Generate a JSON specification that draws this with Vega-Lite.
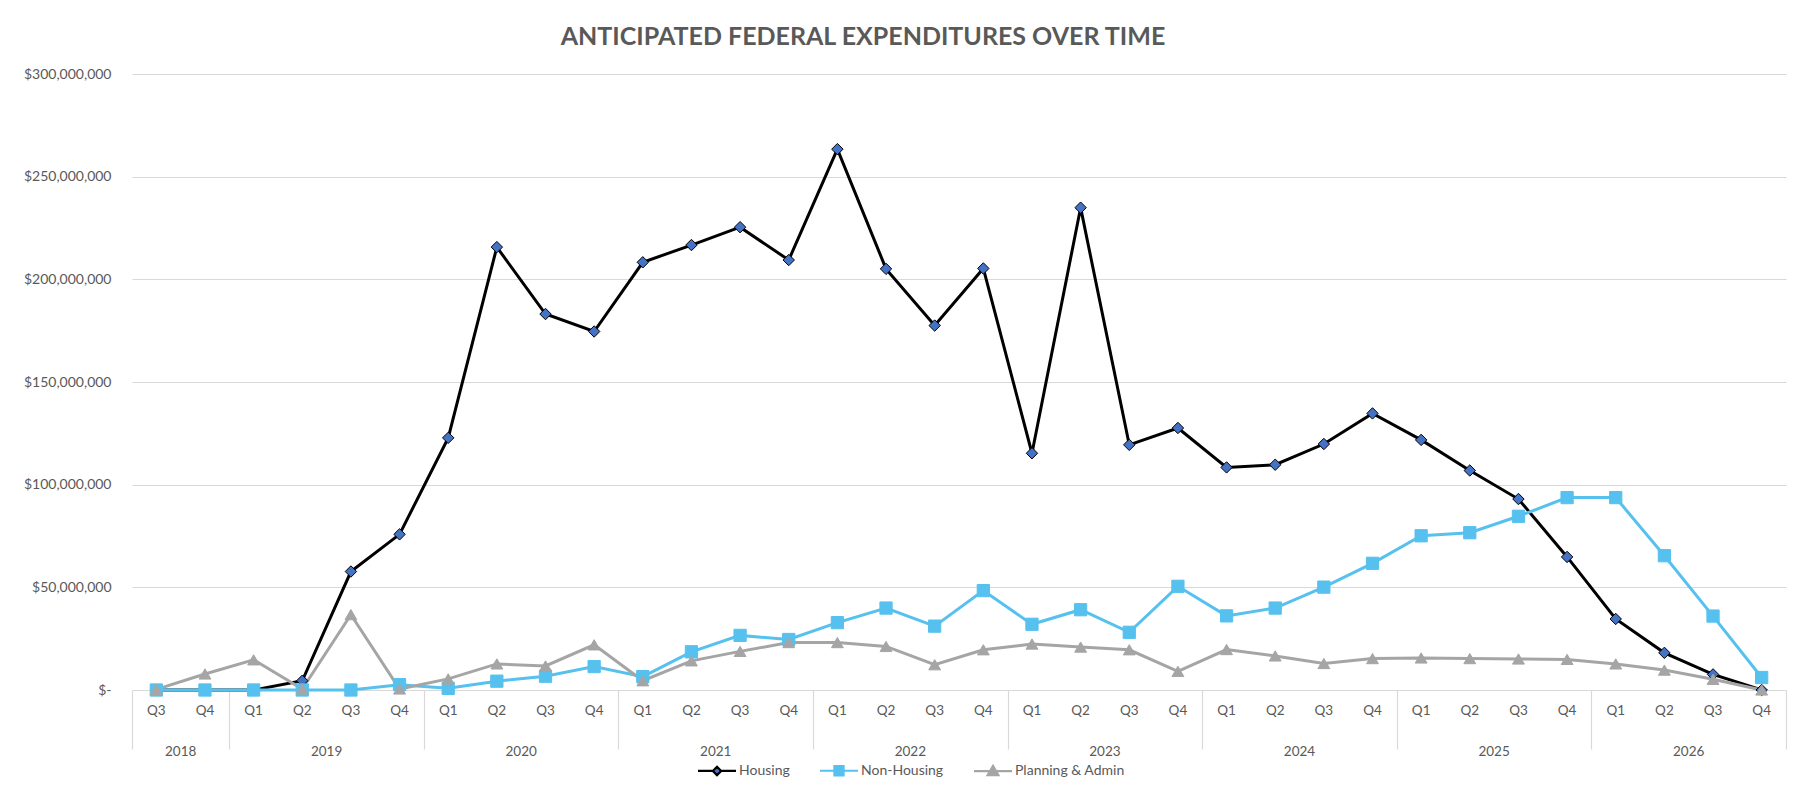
{
  "$schema": "https://vega.github.io/schema/vega-lite/v6.json",
  "width": 1654,
  "height": 616,
  "autosize": {"type": "none"},
  "padding": {"left": 132, "top": 74, "right": 25, "bottom": 106},
  "background": "white",
  "config": {
    "view": {"stroke": null},
    "font": "Lato",
    "axis": {"labelColor": "#595959", "labelFontSize": 13.5, "labelFont": "Lato", "title": null}
  },
  "title": {
    "text": "ANTICIPATED FEDERAL EXPENDITURES OVER TIME",
    "anchor": "middle",
    "dx": -96,
    "offset": 17,
    "fontSize": 25,
    "font": "Lato",
    "fontWeight": "bold",
    "color": "#595959"
  },
  "data": {
    "values": [
      {"period": "2018 Q3", "Housing": 0, "Non-Housing": 0, "Planning & Admin": 300000},
      {"period": "2018 Q4", "Housing": 0, "Non-Housing": 0, "Planning & Admin": 7800000},
      {"period": "2019 Q1", "Housing": 0, "Non-Housing": 0, "Planning & Admin": 14700000},
      {"period": "2019 Q2", "Housing": 4500000, "Non-Housing": 0, "Planning & Admin": 500000},
      {"period": "2019 Q3", "Housing": 57700000, "Non-Housing": 0, "Planning & Admin": 36700000},
      {"period": "2019 Q4", "Housing": 75800000, "Non-Housing": 2600000, "Planning & Admin": 500000},
      {"period": "2020 Q1", "Housing": 122800000, "Non-Housing": 800000, "Planning & Admin": 5400000},
      {"period": "2020 Q2", "Housing": 215700000, "Non-Housing": 4300000, "Planning & Admin": 12700000},
      {"period": "2020 Q3", "Housing": 183100000, "Non-Housing": 6700000, "Planning & Admin": 11700000},
      {"period": "2020 Q4", "Housing": 174600000, "Non-Housing": 11400000, "Planning & Admin": 22000000},
      {"period": "2021 Q1", "Housing": 208300000, "Non-Housing": 6500000, "Planning & Admin": 4500000},
      {"period": "2021 Q2", "Housing": 216700000, "Non-Housing": 18600000, "Planning & Admin": 14200000},
      {"period": "2021 Q3", "Housing": 225400000, "Non-Housing": 26600000, "Planning & Admin": 18800000},
      {"period": "2021 Q4", "Housing": 209400000, "Non-Housing": 24600000, "Planning & Admin": 23100000},
      {"period": "2022 Q1", "Housing": 263400000, "Non-Housing": 32800000, "Planning & Admin": 23100000},
      {"period": "2022 Q2", "Housing": 205100000, "Non-Housing": 39900000, "Planning & Admin": 21200000},
      {"period": "2022 Q3", "Housing": 177500000, "Non-Housing": 31100000, "Planning & Admin": 12300000},
      {"period": "2022 Q4", "Housing": 205300000, "Non-Housing": 48400000, "Planning & Admin": 19600000},
      {"period": "2023 Q1", "Housing": 115300000, "Non-Housing": 32000000, "Planning & Admin": 22400000},
      {"period": "2023 Q2", "Housing": 234900000, "Non-Housing": 39100000, "Planning & Admin": 20900000},
      {"period": "2023 Q3", "Housing": 119400000, "Non-Housing": 28100000, "Planning & Admin": 19600000},
      {"period": "2023 Q4", "Housing": 127600000, "Non-Housing": 50500000, "Planning & Admin": 9100000},
      {"period": "2024 Q1", "Housing": 108400000, "Non-Housing": 36100000, "Planning & Admin": 19700000},
      {"period": "2024 Q2", "Housing": 109700000, "Non-Housing": 39900000, "Planning & Admin": 16600000},
      {"period": "2024 Q3", "Housing": 119800000, "Non-Housing": 50100000, "Planning & Admin": 12900000},
      {"period": "2024 Q4", "Housing": 134700000, "Non-Housing": 61700000, "Planning & Admin": 15300000},
      {"period": "2025 Q1", "Housing": 121800000, "Non-Housing": 75100000, "Planning & Admin": 15600000},
      {"period": "2025 Q2", "Housing": 106900000, "Non-Housing": 76600000, "Planning & Admin": 15300000},
      {"period": "2025 Q3", "Housing": 93000000, "Non-Housing": 84600000, "Planning & Admin": 15100000},
      {"period": "2025 Q4", "Housing": 64800000, "Non-Housing": 93700000, "Planning & Admin": 14900000},
      {"period": "2026 Q1", "Housing": 34600000, "Non-Housing": 93700000, "Planning & Admin": 12700000},
      {"period": "2026 Q2", "Housing": 18100000, "Non-Housing": 65400000, "Planning & Admin": 9700000},
      {"period": "2026 Q3", "Housing": 7600000, "Non-Housing": 36000000, "Planning & Admin": 5200000},
      {"period": "2026 Q4", "Housing": 0, "Non-Housing": 6100000, "Planning & Admin": 0}
    ]
  },
  "transform": [
    {"fold": ["Housing", "Non-Housing", "Planning & Admin"], "as": ["series", "value"]}
  ],
  "resolve": {"axis": {"x": "independent"}},
  "layer": [
    {
      "mark": {"type": "line", "strokeWidth": 3},
      "encoding": {
        "x": {
          "field": "period", "type": "ordinal", "sort": null, "bandPosition": 0.5,
          "scale": {"type": "band", "paddingInner": 0, "paddingOuter": 0},
          "axis": {
            "orient": "bottom",
            "labelExpr": "slice(datum.value, 5)",
            "ticks": false, "grid": false, "labelAngle": 0,
            "domainColor": "#d9d9d9", "domainWidth": 1.2,
            "labelPadding": 13, "labelOverlap": false
          }
        },
        "y": {
          "field": "value", "type": "quantitative",
          "scale": {"domain": [0, 300000000]},
          "axis": {
            "values": [0, 50000000, 100000000, 150000000, 200000000, 250000000, 300000000],
            "labelExpr": "datum.value == 0 ? '$-   ' : '$' + format(datum.value, ',')",
            "labelFontSize": 14,
            "domain": false, "ticks": false,
            "grid": true, "gridColor": "#d9d9d9", "gridWidth": 1.2,
            "labelPadding": 21
          }
        },
        "color": {
          "field": "series", "type": "nominal",
          "scale": {"domain": ["Housing", "Non-Housing", "Planning & Admin"], "range": ["#000000", "#56C1EE", "#A5A5A5"]},
          "legend": {
            "title": null,
            "orient": "none",
            "legendX": 566,
            "legendY": 676,
            "direction": "horizontal",
            "labelFontSize": 14,
            "labelFont": "Lato",
            "labelColor": "#595959",
            "columnPadding": 25,
            "encode": {
              "symbols": {
                "update": {
                  "shape": {"signal": "datum.value === 'Housing' ? 'M-1,0L-0.22,0M0.22,0L1,0M0,-0.22L0.22,0L0,0.22L-0.22,0Z' : datum.value === 'Non-Housing' ? 'M-1,0L1,0M-0.24,-0.24L0.24,-0.24L0.24,0.24L-0.24,0.24Z' : 'M-1,0L1,0M0,-0.27L0.28,0.21L-0.28,0.21Z'"},
                  "fill": {"signal": "datum.value === 'Housing' ? '#4472C4' : datum.value === 'Non-Housing' ? '#56C1EE' : '#A5A5A5'"},
                  "stroke": {"signal": "datum.value === 'Housing' ? '#000000' : datum.value === 'Non-Housing' ? '#56C1EE' : '#A5A5A5'"},
                  "strokeWidth": {"value": 2.2},
                  "strokeOpacity": {"value": 1},
                  "fillOpacity": {"value": 1},
                  "size": {"value": 1444},
                  "x": {"value": 19},
                  "opacity": {"value": 1}
                }
              },
              "labels": {
                "update": {
                  "x": {"value": 41}
                }
              }
            }
          }
        }
      }
    },
    {
      "transform": [{"filter": "datum.series === 'Housing'"}],
      "mark": {"type": "point", "shape": "diamond", "filled": true, "fill": "#4472C4", "stroke": "#000000", "strokeWidth": 1, "size": 130, "opacity": 1},
      "encoding": {
        "x": {
          "field": "period", "type": "ordinal", "sort": null, "bandPosition": 0.5,
          "axis": {
            "orient": "bottom",
            "values": ["2018 Q3", "2019 Q2", "2020 Q2", "2021 Q2", "2022 Q2", "2023 Q2", "2024 Q2", "2025 Q2", "2026 Q2"],
            "labelExpr": "slice(datum.value, 0, 4)",
            "labelOffset": 24.3,
            "ticks": false, "domain": false, "grid": false, "labelAngle": 0,
            "labelPadding": 54, "labelOverlap": false
          }
        },
        "y": {"field": "value", "type": "quantitative"}
      }
    },
    {
      "transform": [{"filter": "datum.series === 'Non-Housing'"}],
      "mark": {"type": "point", "shape": "square", "filled": true, "fill": "#56C1EE", "stroke": "#56C1EE", "strokeWidth": 1, "size": 150, "opacity": 1},
      "encoding": {
        "x": {"field": "period", "type": "ordinal", "sort": null, "bandPosition": 0.5, "axis": null},
        "y": {"field": "value", "type": "quantitative"}
      }
    },
    {
      "transform": [{"filter": "datum.series === 'Planning & Admin'"}],
      "mark": {"type": "point", "shape": "triangle-up", "filled": true, "fill": "#A5A5A5", "stroke": "#A5A5A5", "strokeWidth": 1, "size": 140, "opacity": 1},
      "encoding": {
        "x": {"field": "period", "type": "ordinal", "sort": null, "bandPosition": 0.5, "axis": null},
        "y": {"field": "value", "type": "quantitative"}
      }
    },
    {
      "mark": {"type": "point", "opacity": 0},
      "encoding": {
        "x": {
          "field": "period", "type": "ordinal", "sort": null, "bandPosition": 0.5,
          "axis": {
            "orient": "bottom",
            "values": ["2018 Q4", "2019 Q4", "2020 Q4", "2021 Q4", "2022 Q4", "2023 Q4", "2024 Q4", "2025 Q4", "2026 Q4"],
            "tickOffset": 24.3,
            "labels": false, "domain": false, "grid": false,
            "ticks": true, "tickSize": 59, "tickColor": "#d9d9d9", "tickWidth": 1.2
          }
        },
        "y": {"field": "value", "type": "quantitative"}
      }
    },
    {
      "mark": {"type": "point", "opacity": 0},
      "encoding": {
        "x": {
          "field": "period", "type": "ordinal", "sort": null, "bandPosition": 0.5,
          "axis": {
            "orient": "bottom",
            "values": ["2018 Q3"],
            "tickOffset": -24.3,
            "labels": false, "domain": false, "grid": false,
            "ticks": true, "tickSize": 59, "tickColor": "#d9d9d9", "tickWidth": 1.2
          }
        },
        "y": {"field": "value", "type": "quantitative"}
      }
    }
  ]
}
